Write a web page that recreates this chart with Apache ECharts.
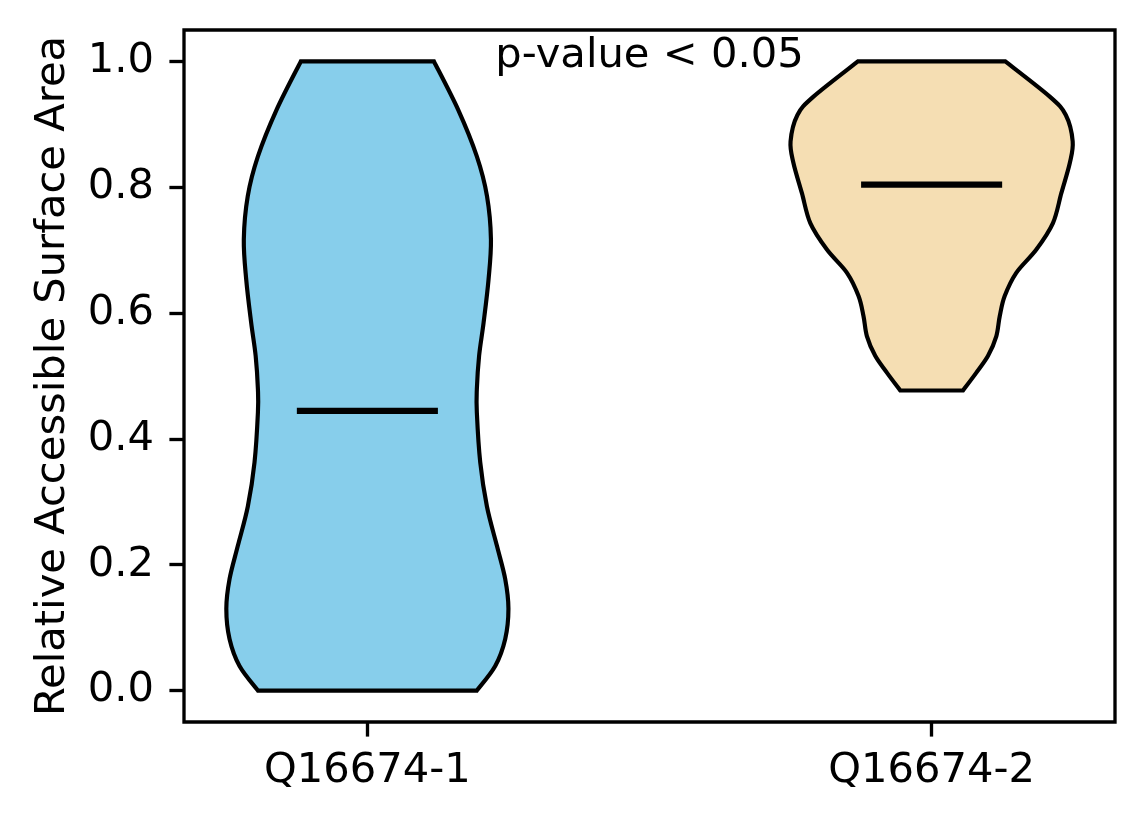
<!DOCTYPE html>
<html><head><meta charset="utf-8">
<script src="https://cdn.jsdelivr.net/npm/echarts@6/dist/echarts.min.js"></script>
<style>html,body{margin:0;padding:0;background:#fff}#c{width:1144px;height:824px}</style>
</head><body><div id="c"></div>
<script>
// ---- data ----
const categories = ['Q16674-1', 'Q16674-2'];
const positions = [1, 2];
const yTicks = [0, 0.2, 0.4, 0.6, 0.8, 1.0];
const violin1Y = [0.0, 0.039, 0.082, 0.130, 0.177, 0.230, 0.293, 0.363, 0.442, 0.479, 0.532, 0.585, 0.653, 0.717, 0.786, 0.849, 0.923, 1.0];
const violin1HalfWidth = [0.194, 0.2266, 0.2443, 0.25, 0.2443, 0.2296, 0.2118, 0.200, 0.194, 0.194, 0.198, 0.206, 0.2147, 0.219, 0.212, 0.194, 0.161, 0.118];
const violin2Y = [0.477, 0.505, 0.532, 0.563, 0.595, 0.627, 0.664, 0.701, 0.743, 0.791, 0.839, 0.873, 0.915, 0.944, 1.0];
const violin2HalfWidth = [0.0556, 0.079, 0.100, 0.1146, 0.1207, 0.1295, 0.150, 0.1856, 0.215, 0.230, 0.245, 0.250, 0.2378, 0.2094, 0.1306];
const medians = [0.4444, 0.8043];
const annotation = 'p-value < 0.05';
const yLabel = 'Relative Accessible Surface Area';

// ---- drawing ----
const violinY = [violin1Y, violin2Y];
const violinHW = [violin1HalfWidth, violin2HalfWidth];
const colors = ['#87CEEB', '#F5DEB3'];
const FONT = 'DejaVu Sans';
const FS = 41.67;
const LW = 3.33;

function curve(pts) {
  let d = '';
  for (let i = 0; i < pts.length - 1; i++) {
    const p0 = pts[i - 1] || pts[i], p1 = pts[i], p2 = pts[i + 1], p3 = pts[i + 2] || pts[i + 1];
    const c1 = [p1[0] + (p2[0] - p0[0]) / 6, p1[1] + (p2[1] - p0[1]) / 6];
    const c2 = [p2[0] - (p3[0] - p1[0]) / 6, p2[1] - (p3[1] - p1[1]) / 6];
    d += ' C' + c1[0] + ',' + c1[1] + ' ' + c2[0] + ',' + c2[1] + ' ' + p2[0] + ',' + p2[1];
  }
  return d;
}

const chart = echarts.init(document.getElementById('c'), null, {renderer: 'canvas'});
chart.setOption({
  animation: false,
  backgroundColor: '#ffffff',
  grid: {left: 184, top: 30, width: 931, height: 692, show: true, borderColor: '#000', borderWidth: LW, backgroundColor: 'transparent'},
  xAxis: {
    type: 'value', min: 0.675, max: 2.325,
    splitLine: {show: false},
    axisLine: {show: false, onZero: false},
    axisTick: {show: true, inside: false, length: 14.6, lineStyle: {color: '#000', width: LW}, customValues: positions},
    axisLabel: {show: true, margin: 28, color: '#000', fontFamily: FONT, fontSize: FS, customValues: positions,
      formatter: function (v) { const i = positions.indexOf(Math.round(v)); return i >= 0 ? categories[i] : ''; }}
  },
  yAxis: {
    type: 'value', min: -0.05, max: 1.05,
    name: yLabel, nameLocation: 'middle', nameRotate: 90, nameGap: 110,
    nameTextStyle: {color: '#000', fontFamily: FONT, fontSize: FS},
    splitLine: {show: false},
    axisLine: {show: false, onZero: false},
    axisTick: {show: true, inside: false, length: 14.6, lineStyle: {color: '#000', width: LW}, customValues: yTicks},
    axisLabel: {show: true, margin: 30, color: '#000', fontFamily: FONT, fontSize: FS, customValues: yTicks,
      formatter: function (v) { return v.toFixed(1); }}
  },
  series: [
    {
      type: 'custom', clip: false,
      data: positions.map(function (p, i) { return [p, i]; }),
      encode: {x: 0},
      renderItem: function (params, api) {
        const idx = params.dataIndex;
        const pos = positions[idx];
        const ys = violinY[idx], hw = violinHW[idx];
        const left = ys.map(function (y, k) { return api.coord([pos - hw[k], y]); });
        const right = ys.map(function (y, k) { return api.coord([pos + hw[k], y]); }).reverse();
        let d = 'M' + left[0][0] + ',' + left[0][1] + curve(left);
        d += ' L' + right[0][0] + ',' + right[0][1] + curve(right) + ' Z';
        return {type: 'path', shape: {pathData: d}, style: {fill: colors[idx], stroke: '#000', lineWidth: 4.17, lineJoin: 'miter'}};
      },
      z: 2
    },
    {
      type: 'custom', clip: false,
      data: positions.map(function (p, i) { return [p, medians[i]]; }),
      encode: {x: 0, y: 1},
      renderItem: function (params, api) {
        const p = api.value(0), m = api.value(1);
        const a = api.coord([p - 0.125, m]), b = api.coord([p + 0.125, m]);
        return {type: 'line', shape: {x1: a[0], y1: a[1], x2: b[0], y2: b[1]}, style: {stroke: '#000', lineWidth: 6.25, lineCap: 'butt'}};
      },
      z: 3
    },
    {
      type: 'custom', clip: false,
      data: [[1.5, 1.008]],
      encode: {x: 0, y: 1},
      renderItem: function (params, api) {
        const c = api.coord([api.value(0), api.value(1)]);
        return {type: 'text', x: c[0], y: c[1], style: {text: annotation, fill: '#000', font: FS + 'px "' + FONT + '"', align: 'center', verticalAlign: 'middle'}};
      },
      z: 4
    }
  ]
});
</script>
</body></html>
